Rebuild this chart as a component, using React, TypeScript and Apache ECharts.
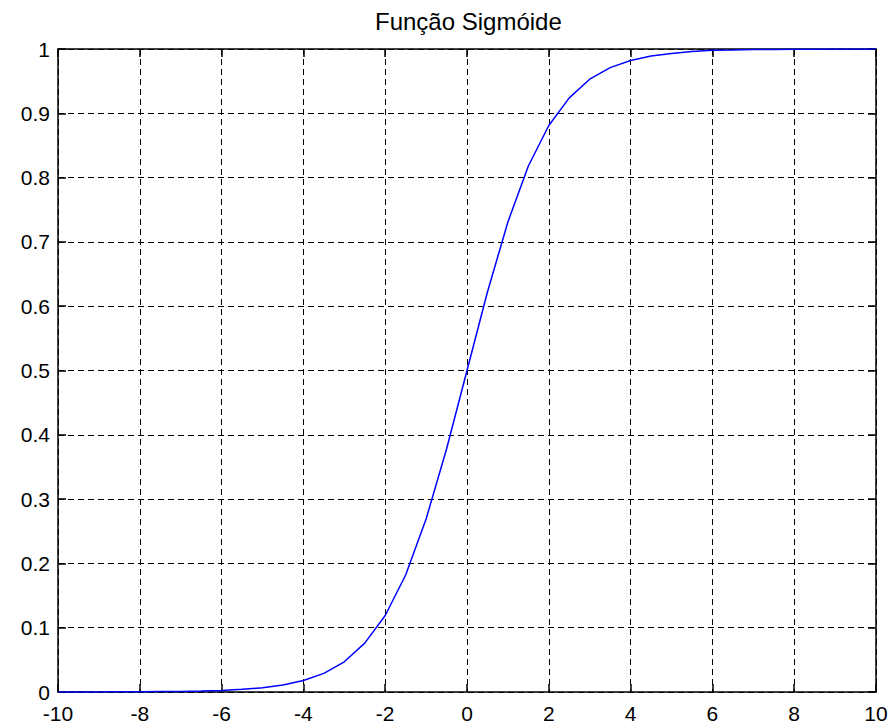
import React, { useEffect, useRef } from "react";
import * as echarts from "echarts";

// Sampled logistic curve, x from -10 to 10 in steps of 0.5
const xValues: number[] = [
  -10, -9.5, -9, -8.5, -8, -7.5, -7, -6.5, -6, -5.5, -5, -4.5, -4, -3.5, -3, -2.5,
  -2, -1.5, -1, -0.5, 0, 0.5, 1, 1.5, 2, 2.5, 3, 3.5, 4, 4.5, 5, 5.5, 6, 6.5, 7,
  7.5, 8, 8.5, 9, 9.5, 10,
];
const yValues: number[] = [
  0.0000, 0.0001, 0.0001, 0.0002, 0.0003, 0.0006, 0.0009, 0.0015, 0.0025, 0.0041,
  0.0067, 0.011, 0.018, 0.029, 0.047, 0.076, 0.119, 0.182, 0.269, 0.378, 0.5,
  0.622, 0.731, 0.818, 0.881, 0.924, 0.953, 0.971, 0.982, 0.989, 0.993, 0.996,
  0.998, 0.9985, 0.9991, 0.9994, 0.9997, 0.9998, 0.9999, 0.9999, 1.0,
];
const xTicks: number[] = [-10, -8, -6, -4, -2, 0, 2, 4, 6, 8, 10];
const yTicks: number[] = [0, 0.1, 0.2, 0.3, 0.4, 0.5, 0.6, 0.7, 0.8, 0.9, 1];
const title = "Função Sigmóide";

const FONT = "Liberation Sans, Arial, sans-serif";

export default function App() {
  const ref = useRef<HTMLDivElement>(null);

  useEffect(() => {
    document.body.style.margin = "0";
    if (!ref.current) return;
    const chart = echarts.init(ref.current, undefined, { renderer: "svg" });

    const axisLine = { show: true, onZero: false, lineStyle: { color: "#000", width: 1.5 } };
    const axisTick = { show: true, inside: true, length: 8, lineStyle: { color: "#000", width: 1.5 } };
    const splitLine = { show: true, lineStyle: { color: "#000", width: 1, type: [6, 4] as number[] } };
    const label = { color: "#000", fontSize: 21, lineHeight: 20, fontFamily: FONT, margin: 8 };

    chart.setOption({
      animation: false,
      backgroundColor: "#fff",
      // title sits centred over the plot area rather than the whole canvas
      title: {
        text: title,
        left: 370,
        top: 4,
        textStyle: { color: "#000", fontSize: 24, fontWeight: "normal", fontFamily: FONT },
      },
      grid: { left: 58, right: 15, top: 49, bottom: 36, containLabel: false },
      xAxis: [
        {
          type: "value",
          min: xTicks[0],
          max: xTicks[xTicks.length - 1],
          interval: xTicks[1] - xTicks[0],
          axisLine,
          axisTick,
          splitLine,
          axisLabel: { ...label, margin: 11, formatter: (v: number) => String(v) },
        },
        {
          type: "value",
          position: "top",
          min: xTicks[0],
          max: xTicks[xTicks.length - 1],
          interval: xTicks[1] - xTicks[0],
          axisLine,
          axisTick,
          splitLine: { show: false },
          axisLabel: { show: false },
        },
      ],
      yAxis: [
        {
          type: "value",
          min: yTicks[0],
          max: yTicks[yTicks.length - 1],
          interval: 0.1,
          axisLine,
          axisTick,
          splitLine,
          axisLabel: {
            ...label,
            formatter: (v: number) => {
              const r = Math.round(v * 10) / 10;
              return r === 0 || r === 1 ? String(r) : r.toFixed(1);
            },
          },
        },
        {
          type: "value",
          position: "right",
          min: yTicks[0],
          max: yTicks[yTicks.length - 1],
          interval: 0.1,
          axisLine,
          axisTick,
          splitLine: { show: false },
          axisLabel: { show: false },
        },
      ],
      series: [
        {
          type: "line",
          data: xValues.map((x, i) => [x, yValues[i]]),
          showSymbol: false,
          lineStyle: { color: "#0000ff", width: 1.5 },
          z: 5,
        },
      ],
    });

    return () => chart.dispose();
  }, []);

  return <div ref={ref} style={{ width: 891, height: 728 }} />;
}
